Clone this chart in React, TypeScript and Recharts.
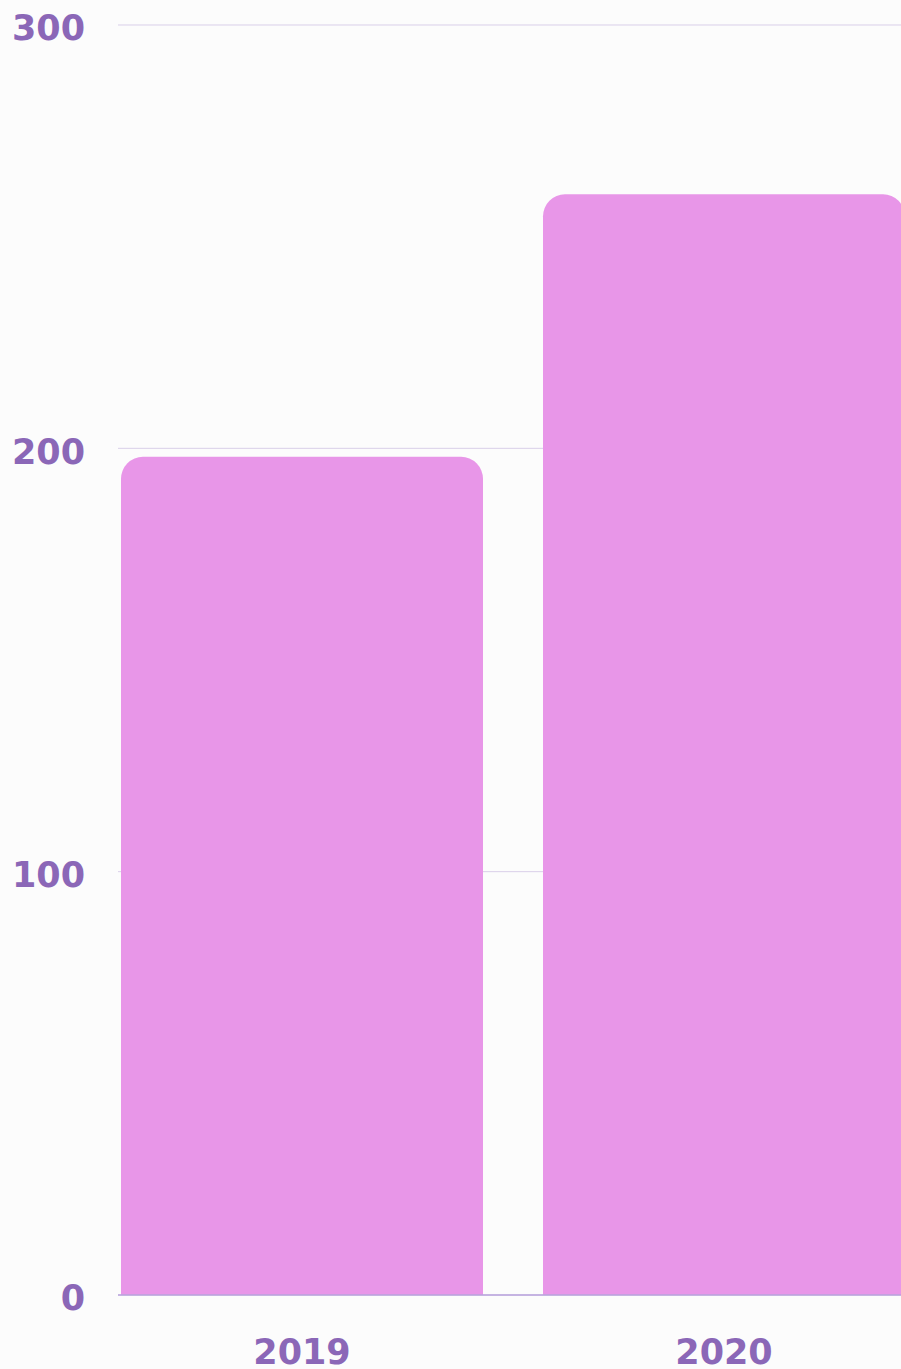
import { BarChart, Bar, XAxis, YAxis, CartesianGrid } from "recharts"

const years = ["2019", "2020"]
const totals = [198, 260]
const yTicks = [0, 100, 200, 300]

const data = years.map((year, i) => ({ year, total: totals[i] }))

const PURPLE = "#8b67b7"
const BAR = "#e896e8"

const tickStyle = {
  fill: PURPLE,
  fontFamily: "'DejaVu Sans', sans-serif",
  fontWeight: 700,
  fontSize: 35,
}

export default function App() {
  return (
    <div
      style={{
        position: "absolute",
        left: 0,
        top: 0,
        width: 901,
        height: 1369,
        overflow: "hidden",
        background: "#fcfcfc",
      }}
    >
      <BarChart width={940} height={1369} data={data} margin={{ top: 25, right: 0, bottom: 0, left: 0 }}>
        <CartesianGrid vertical={false} stroke="#d9cfe9" />
        <XAxis
          dataKey="year"
          height={74}
          padding={{ left: -27, right: 5 }}
          axisLine={{ stroke: "#b9a3dc", strokeWidth: 1.5 }}
          tickLine={false}
          tickMargin={38}
          tick={tickStyle}
        />
        <YAxis
          domain={[0, 300]}
          ticks={yTicks}
          width={118}
          axisLine={false}
          tickLine={false}
          tickMargin={27}
          tick={{ ...tickStyle, dy: 3 }}
        />
        <Bar dataKey="total" fill={BAR} barSize={362} radius={[22, 22, 0, 0]} isAnimationActive={false} />
      </BarChart>
    </div>
  )
}
